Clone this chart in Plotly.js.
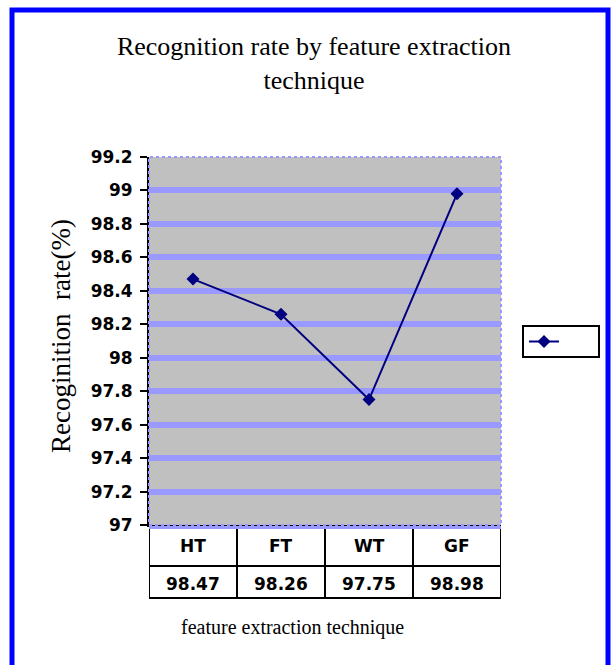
<!DOCTYPE html>
<html>
<head>
<meta charset="utf-8">
<script src="https://cdn.plot.ly/plotly-3.0.1.min.js"></script>
<style>html,body{margin:0;padding:0;background:#fff;}#chart{width:614px;height:665px;}</style>
</head>
<body>
<div id="chart"></div>
<script>
const categories = ["HT", "FT", "WT", "GF"];
const rates = [98.47, 98.26, 97.75, 98.98];
const yTicks = [97, 97.2, 97.4, 97.6, 97.8, 98, 98.2, 98.4, 98.6, 98.8, 99, 99.2];

const H = 368; // plot height px
const py = px => (525 - px) / H;          // page y -> paper y
const pxx = px => (px - 149) / 352;        // page x -> paper x

const shapes = [];
// outer blue frame
shapes.push({type:'rect', xref:'paper', yref:'paper', x0:pxx(12), x1:pxx(608), y0:py(672), y1:py(10),
  line:{color:'#0000ff', width:5}, fillcolor:'rgba(0,0,0,0)', layer:'below'});
// dotted plot border
shapes.push({type:'rect', xref:'paper', yref:'paper', x0:0, x1:1, y0:0, y1:1,
  line:{color:'#9999ff', width:2, dash:'dot'}, layer:'above'});
// table lines
for (let i = 0; i <= categories.length; i++) {
  shapes.push({type:'line', xref:'x', yref:'paper', x0:i-0.5, x1:i-0.5, y0:py(526), y1:py(599),
    line:{color:'#000', width:2}});
}
[566, 598].forEach(yy => shapes.push({type:'line', xref:'x', yref:'paper', x0:-0.5, x1:categories.length-0.5,
  y0:py(yy), y1:py(yy), line:{color:'#000', width:2}}));
// lavender band right above x axis
shapes.push({type:'line', xref:'paper', yref:'paper', x0:0, x1:1, y0:py(527.5), y1:py(527.5), line:{color:'#9999ff', width:3}});

const cellFont = {family:'DejaVu Sans, Arial, sans-serif', size:17, color:'#000', weight:'bold'};
const annotations = [];
categories.forEach((c, i) => {
  annotations.push({x:i, y:py(546), xref:'x', yref:'paper', xanchor:'center', yanchor:'middle',
    text:'<b>'+c+'</b>', showarrow:false, font:cellFont});
  annotations.push({x:i, y:py(584), xref:'x', yref:'paper', xanchor:'center', yanchor:'middle',
    text:'<b>'+rates[i].toFixed(2)+'</b>', showarrow:false, font:cellFont});
});
annotations.push({x:pxx(292), y:py(627), xref:'paper', yref:'paper', xanchor:'center', yanchor:'middle',
  text:'feature extraction technique', showarrow:false,
  font:{family:'Liberation Serif, Times New Roman, serif', size:20, color:'#000'}});
annotations.push({x:pxx(61), y:py(336), xref:'paper', yref:'paper', xanchor:'center', yanchor:'middle',
  text:'Recoginition\u00a0\u00a0rate(%)', textangle:-90, showarrow:false,
  font:{family:'Liberation Serif, Times New Roman, serif', size:27, color:'#000'}});

const trace = {
  x: categories, y: rates, type:'scatter', mode:'lines+markers',
  name:'\u00a0\u00a0\u00a0\u00a0\u00a0\u00a0\u00a0\u00a0\u00a0\u00a0\u00a0',
  line:{color:'#000080', width:2},
  marker:{symbol:'diamond', size:10, color:'#000080'}
};

const layout = {
  width:614, height:665,
  margin:{l:149, r:113, t:157, b:140, pad:0},
  paper_bgcolor:'#ffffff', plot_bgcolor:'#c0c0c0',
  title:{text:'Recognition rate by feature extraction<br>technique', xref:'container', x:314/614, xanchor:'center',
    yref:'container', y:1-55/665, yanchor:'top',
    font:{family:'Liberation Serif, Times New Roman, serif', size:26, color:'#000'}},
  xaxis:{type:'category', range:[-0.5, 3.5], showticklabels:false, ticks:'', showgrid:false, zeroline:false,
    showline:true, linecolor:'#000', linewidth:2, fixedrange:true},
  yaxis:{range:[97, 99.2], tickvals:yTicks, ticktext:yTicks.map(v => String(v)),
    tickfont:{family:'DejaVu Sans, Arial, sans-serif', size:17, color:'#000', weight:'bold'},
    ticks:'outside', ticklen:7, tickwidth:2, tickcolor:'#000', ticklabelstandoff:4,
    showgrid:true, gridcolor:'#9999ff', gridwidth:6, zeroline:false,
    showline:true, linecolor:'#000', linewidth:2, fixedrange:true},
  showlegend:true,
  legend:{x:pxx(522), y:py(325), xanchor:'left', yanchor:'top', bordercolor:'#000', borderwidth:2, bgcolor:'#fff',
    font:{size:10}},
  shapes:shapes, annotations:annotations
};

Plotly.newPlot('chart', [trace], layout, {displayModeBar:false, staticPlot:true});
</script>
</body>
</html>
